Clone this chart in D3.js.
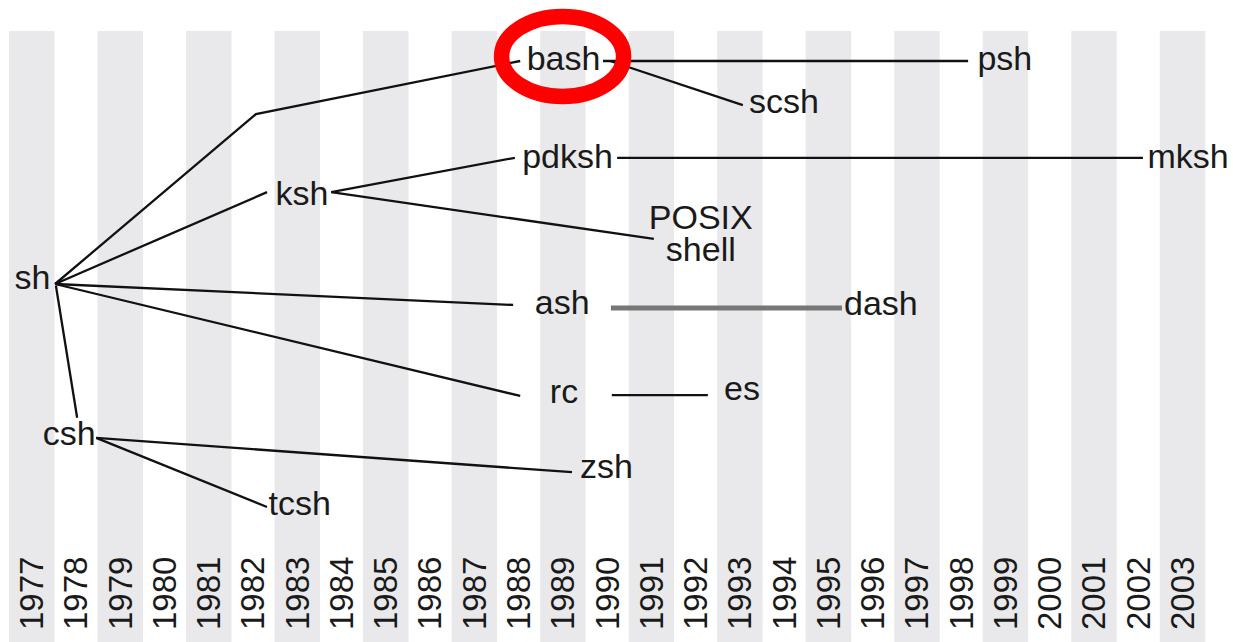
<!DOCTYPE html>
<meta charset="utf-8">

<!-- Load d3.js -->
<script src="https://d3js.org/d3.v7.min.js"></script>

<style>
    body { margin: 0; background: #fff; }
    text { font-family: "Liberation Sans", Arial, sans-serif; fill: #1a1a1a; }
</style>

<div id="my_dataviz"></div>

<script>

    // year columns along the bottom
    const years = [1977, 1978, 1979, 1980, 1981, 1982, 1983, 1984, 1985, 1986, 1987, 1988, 1989, 1990,
        1991, 1992, 1993, 1994, 1995, 1996, 1997, 1998, 1999, 2000, 2001, 2002, 2003];

    // shells: name, year (label centre), vertical level (label baseline)
    const nodeNames  = ["sh", "csh", "ksh", "tcsh", "bash", "pdksh", "ash", "rc", "zsh", "POSIX\nshell", "scsh", "es", "dash", "psh", "mksh"];
    const nodeYears  = [1977.03, 1977.86, 1983.12, 1983.07, 1989.03, 1989.12, 1989.0, 1989.04, 1990.0, 1992.13, 1994.01, 1993.06, 1996.2, 1999.0, 2003.14];
    const nodeLevels = [5.11, 8.61, 3.23, 10.18, 0.20, 2.40, 5.67, 7.67, 9.35, 3.77, 1.17, 7.60, 5.70, 0.20, 2.40];

    // lineage lines as [year, level] points
    const edgeNames = ["sh-bash", "bash-psh", "bash-scsh", "sh-ksh", "ksh-pdksh", "ksh-posix", "pdksh-mksh",
        "sh-ash", "sh-rc", "ash-dash", "rc-es", "sh-csh", "csh-zsh", "csh-tcsh"];
    const edgePoints = [
        [[1978.04, 5.0], [1982.58, 1.19], [1988.55, 0]],
        [[1990.42, 0], [1998.67, 0]],
        [[1990.58, 0], [1993.58, 0.99]],
        [[1978.04, 5.0], [1982.83, 2.94]],
        [[1984.28, 2.94], [1988.43, 2.17]],
        [[1984.28, 2.94], [1991.57, 3.99]],
        [[1990.74, 2.17], [2002.62, 2.17]],
        [[1978.04, 5.0], [1988.39, 5.47]],
        [[1978.04, 5.0], [1988.55, 7.51]],
        [[1990.60, 5.54], [1995.82, 5.54]],
        [[1990.62, 7.49], [1992.79, 7.49]],
        [[1978.06, 5.04], [1978.54, 8.0]],
        [[1978.97, 8.45], [1989.72, 9.22]],
        [[1978.97, 8.45], [1982.83, 10.0]]
    ];
    const edgeThick = ["ash-dash"];

    // highlighted shell
    const highlight = "bash";

    const width = 1233, height = 642;

    const svg = d3.select("#my_dataviz")
        .append("svg")
        .attr("width", width)
        .attr("height", height);

    const x = d3.scaleLinear()
        .domain([1977, 2004])
        .range([9, 9 + 44.26 * 27]);

    const y = d3.scaleLinear()
        .domain([0, 10])
        .range([61, 507]);

    const colW = x(1978) - x(1977);

    // grey bands on every other year
    svg.append("g")
        .selectAll("rect")
        .data(years.filter((d, i) => i % 2 === 0))
        .join("rect")
        .attr("x", d => x(d))
        .attr("y", 31)
        .attr("width", colW + 1.2)
        .attr("height", height - 31)
        .style("fill", "#e9e9eb");

    // year labels, rotated
    svg.append("g")
        .selectAll("text")
        .data(years)
        .join("text")
        .attr("transform", d => `translate(${x(d) + colW / 2 + 12}, 630) rotate(-90)`)
        .attr("text-anchor", "start")
        .style("font-size", "33px")
        .text(d => d);

    // lines
    const line = d3.line()
        .x(d => x(d[0]))
        .y(d => y(d[1]));

    svg.append("g")
        .selectAll("path")
        .data(edgeNames)
        .join("path")
        .attr("d", (d, i) => line(edgePoints[i]))
        .style("fill", "none")
        .style("stroke", d => edgeThick.includes(d) ? "#777" : "#111")
        .style("stroke-width", d => edgeThick.includes(d) ? 5 : 2.3);

    // shell labels
    const labels = svg.append("g")
        .selectAll("text")
        .data(nodeNames)
        .join("text")
        .attr("x", (d, i) => x(nodeYears[i] + 0.5))
        .attr("y", (d, i) => y(nodeLevels[i]))
        .attr("text-anchor", "middle")
        .style("font-size", "34px");

    labels.selectAll("tspan")
        .data(d => d.split("\n"))
        .join("tspan")
        .attr("x", function() { return this.parentNode.getAttribute("x"); })
        .attr("dy", (d, i) => i === 0 ? 0 : 32)
        .text(d => d);

    // red ring round the highlighted shell
    const h = nodeNames.indexOf(highlight);
    svg.append("ellipse")
        .attr("cx", x(nodeYears[h] + 0.5) - 1)
        .attr("cy", y(nodeLevels[h]) - 13.5)
        .attr("rx", 61)
        .attr("ry", 40)
        .style("fill", "none")
        .style("stroke", "#ff0000")
        .style("stroke-width", 15.5);

</script>
